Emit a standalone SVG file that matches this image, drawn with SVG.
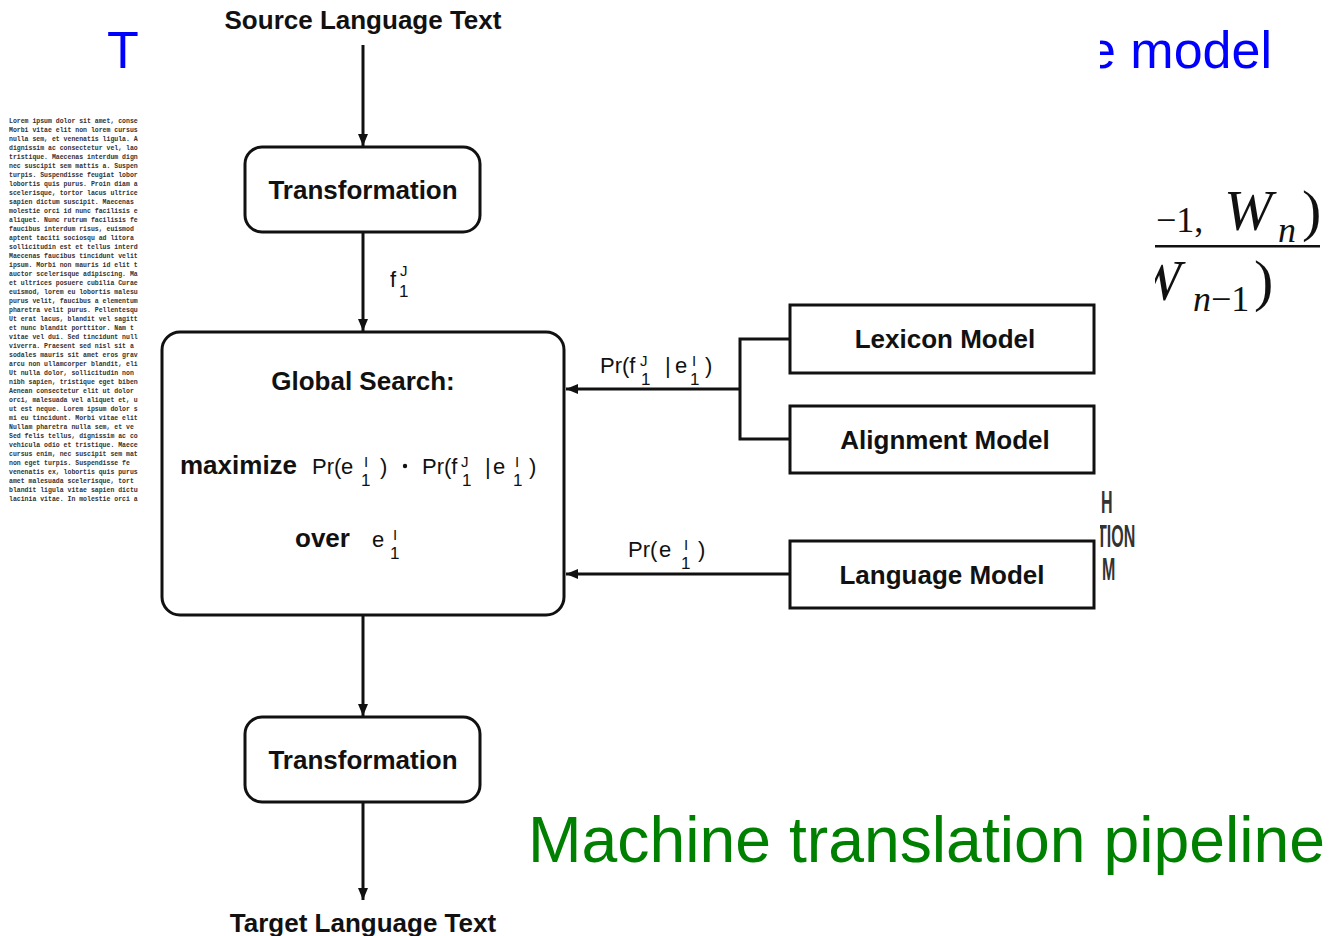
<svg xmlns="http://www.w3.org/2000/svg" width="1329" height="936" viewBox="0 0 1329 936">
<defs>
<style>
.lorem{font-family:"Liberation Mono","DejaVu Sans Mono",monospace;font-size:6.5px;font-weight:bold;fill:#333}
.b{font-family:"Liberation Sans",Arial,sans-serif;font-weight:bold;font-size:26px;fill:#111}
.r{font-family:"Liberation Sans",Arial,sans-serif;font-size:22px;fill:#111}
.sup{font-family:"Liberation Sans",Arial,sans-serif;font-size:15px;fill:#111}
.sub{font-family:"Liberation Sans",Arial,sans-serif;font-size:17px;fill:#111}
.box{fill:#fff;stroke:#111;stroke-width:3}
.edge{fill:none;stroke:#111;stroke-width:3}
.math{font-family:"Liberation Serif","Times New Roman",serif;fill:#111}
.frag{font-family:"Liberation Sans",Arial,sans-serif;font-size:32px;font-weight:bold;fill:#333}
</style>
<marker id="arr" markerUnits="userSpaceOnUse" markerWidth="12" markerHeight="10" refX="12" refY="5" orient="auto">
<path d="M0,0 L12,5 L0,10 z" fill="#111"/>
</marker>
<clipPath id="clipL"><rect x="0" y="0" width="138" height="936"/></clipPath>
<clipPath id="clipR"><rect x="1100" y="0" width="229" height="936"/></clipPath>
<clipPath id="clipM"><rect x="1155" y="0" width="174" height="936"/></clipPath>
</defs>
<rect width="1329" height="936" fill="#fff"/>

<!-- background slide content -->
<g id="lorem" class="lorem" clip-path="url(#clipL)">
<text x="9" y="123">Lorem ipsum dolor sit amet, consectetur</text>
<text x="9" y="132">Morbi vitae elit non lorem cursus</text>
<text x="9" y="141">nulla sem, et venenatis ligula. Aenean</text>
<text x="9" y="150">dignissim ac consectetur vel, laoreet</text>
<text x="9" y="159">tristique. Maecenas interdum dignissim</text>
<text x="9" y="168">nec suscipit sem mattis a. Suspendisse</text>
<text x="9" y="177">turpis. Suspendisse feugiat lobortis</text>
<text x="9" y="186">lobortis quis purus. Proin diam a</text>
<text x="9" y="195">scelerisque, tortor lacus ultrices</text>
<text x="9" y="204">sapien dictum suscipit. Maecenas</text>
<text x="9" y="213">molestie orci id nunc facilisis et</text>
<text x="9" y="222">aliquet. Nunc rutrum facilisis fe</text>
<text x="9" y="231">faucibus interdum risus, euismod a</text>
<text x="9" y="240">aptent taciti sociosqu ad litora</text>
<text x="9" y="249">sollicitudin est et tellus interdum</text>
<text x="9" y="258">Maecenas faucibus tincidunt velit</text>
<text x="9" y="267">ipsum. Morbi non mauris id elit t</text>
<text x="9" y="276">auctor scelerisque adipiscing. Ma</text>
<text x="9" y="285">et ultrices posuere cubilia Curae</text>
<text x="9" y="294">euismod, lorem eu lobortis malesuada</text>
<text x="9" y="303">purus velit, faucibus a elementum</text>
<text x="9" y="312">pharetra velit purus. Pellentesque</text>
<text x="9" y="321">Ut erat lacus, blandit vel sagittis</text>
<text x="9" y="330">et nunc blandit porttitor. Nam t</text>
<text x="9" y="339">vitae vel dui. Sed tincidunt nulla</text>
<text x="9" y="348">viverra. Praesent sed nisl sit a</text>
<text x="9" y="357">sodales mauris sit amet eros gravida</text>
<text x="9" y="366">arcu non ullamcorper blandit, elit</text>
<text x="9" y="375">Ut nulla dolor, sollicitudin non a</text>
<text x="9" y="384">nibh sapien, tristique eget bibendum</text>
<text x="9" y="393">Aenean consectetur elit ut dolor</text>
<text x="9" y="402">orci, malesuada vel aliquet et, ul</text>
<text x="9" y="411">ut est neque. Lorem ipsum dolor s</text>
<text x="9" y="420">mi eu tincidunt. Morbi vitae elit</text>
<text x="9" y="429">Nullam pharetra nulla sem, et ve</text>
<text x="9" y="438">Sed felis tellus, dignissim ac con</text>
<text x="9" y="447">vehicula odio et tristique. Maecenas</text>
<text x="9" y="456">cursus enim, nec suscipit sem mat</text>
<text x="9" y="465">non eget turpis. Suspendisse fe</text>
<text x="9" y="474">venenatis ex, lobortis quis purus</text>
<text x="9" y="483">amet malesuada scelerisque, tort</text>
<text x="9" y="492">blandit ligula vitae sapien dictum</text>
<text x="9" y="501">lacinia vitae. In molestie orci a</text>
</g>

<g id="title" font-family="Liberation Sans, Arial, sans-serif" font-size="52" fill="#0000ff">
<text x="107" y="68">T</text>
<text x="1087" y="68" clip-path="url(#clipR)">e model</text>
</g>

<g id="math" class="math" clip-path="url(#clipM)">
<text x="1156" y="232" font-size="36">−1,</text>
<text x="1224" y="230" font-size="58" font-style="italic">W</text>
<text x="1278" y="242" font-size="36" font-style="italic">n</text>
<text x="1302" y="230" font-size="58">)</text>
<rect x="1155" y="245" width="165" height="2.5" fill="#111"/>
<text x="1133" y="300" font-size="58" font-style="italic">W</text>
<text x="1193" y="311" font-size="36"><tspan font-style="italic">n</tspan>−1</text>
<text x="1254" y="300" font-size="58">)</text>
</g>

<g id="fragments" clip-path="url(#clipR)">
<text class="frag" transform="translate(1101,513) scale(0.5,1)">H</text>
<text class="frag" transform="translate(1097,547) scale(0.5,1)">TION</text>
<text class="frag" transform="translate(1102,580) scale(0.5,1)">M</text>
</g>

<text id="subtitle" x="528" y="862" font-family="Liberation Sans, Arial, sans-serif" font-size="64.3" fill="#008000">Machine translation pipeline</text>

<!-- connectors -->
<g id="connectors" class="edge">
<line x1="363" y1="45" x2="363" y2="146" marker-end="url(#arr)"/>
<line x1="363" y1="232" x2="363" y2="331" marker-end="url(#arr)"/>
<line x1="363" y1="616" x2="363" y2="716" marker-end="url(#arr)"/>
<line x1="363" y1="802" x2="363" y2="900" marker-end="url(#arr)"/>
<polyline points="790,339 740,339 740,439 790,439"/>
<line x1="740" y1="389" x2="566" y2="389" marker-end="url(#arr)"/>
<line x1="790" y1="574" x2="566" y2="574" marker-end="url(#arr)"/>
</g>

<!-- edge labels -->
<g id="label-f1J">
<text class="r" x="390" y="287">f</text>
<text class="sup" x="400" y="276">J</text>
<text class="sub" x="399" y="297">1</text>
</g>
<g id="label-lex">
<text class="r" x="600" y="373">Pr(f</text>
<text class="sup" x="640" y="366">J</text>
<text class="sub" x="641" y="385">1</text>
<text class="r" x="665" y="373">|</text>
<text class="r" x="675" y="373">e</text>
<text class="sup" x="692" y="366">I</text>
<text class="sub" x="690" y="385">1</text>
<text class="r" x="705" y="373">)</text>
</g>
<g id="label-lm">
<text class="r" x="628" y="557">Pr(</text>
<text class="r" x="659" y="557">e</text>
<text class="sup" x="684" y="550">I</text>
<text class="sub" x="681" y="569">1</text>
<text class="r" x="698" y="557">)</text>
</g>

<!-- nodes -->
<g id="node-source"><text class="b" x="363" y="29" text-anchor="middle">Source Language Text</text></g>

<g id="node-transform1">
<rect class="box" x="245" y="147" width="235" height="85" rx="17"/>
<text class="b" x="363" y="199" text-anchor="middle">Transformation</text>
</g>

<g id="node-global">
<rect class="box" x="162" y="332" width="402" height="283" rx="18"/>
<text class="b" x="363" y="390" text-anchor="middle">Global Search:</text>
<text class="b" x="180" y="474">maximize</text>
<text class="r" x="312" y="474">Pr(</text>
<text class="r" x="341" y="474">e</text>
<text class="sup" x="364" y="467">I</text>
<text class="sub" x="361" y="486">1</text>
<text class="r" x="380" y="474">)</text>
<circle cx="405" cy="466" r="2.2" fill="#111"/>
<text class="r" x="422" y="474">Pr(f</text>
<text class="sup" x="461" y="467">J</text>
<text class="sub" x="462" y="486">1</text>
<text class="r" x="485" y="474">|</text>
<text class="r" x="493" y="474">e</text>
<text class="sup" x="515" y="467">I</text>
<text class="sub" x="513" y="486">1</text>
<text class="r" x="529" y="474">)</text>
<text class="b" x="295" y="547">over</text>
<text class="r" x="372" y="547">e</text>
<text class="sup" x="393" y="540">I</text>
<text class="sub" x="390" y="559">1</text>
</g>

<g id="node-lexicon">
<rect class="box" x="790" y="305" width="304" height="68"/>
<text class="b" x="945" y="348" text-anchor="middle">Lexicon Model</text>
</g>
<g id="node-alignment">
<rect class="box" x="790" y="406" width="304" height="67"/>
<text class="b" x="945" y="449" text-anchor="middle">Alignment Model</text>
</g>
<g id="node-language">
<rect class="box" x="790" y="541" width="304" height="67"/>
<text class="b" x="942" y="584" text-anchor="middle">Language Model</text>
</g>

<g id="node-transform2">
<rect class="box" x="245" y="717" width="235" height="85" rx="17"/>
<text class="b" x="363" y="769" text-anchor="middle">Transformation</text>
</g>

<g id="node-target"><text class="b" x="363" y="932" text-anchor="middle">Target Language Text</text></g>
</svg>
